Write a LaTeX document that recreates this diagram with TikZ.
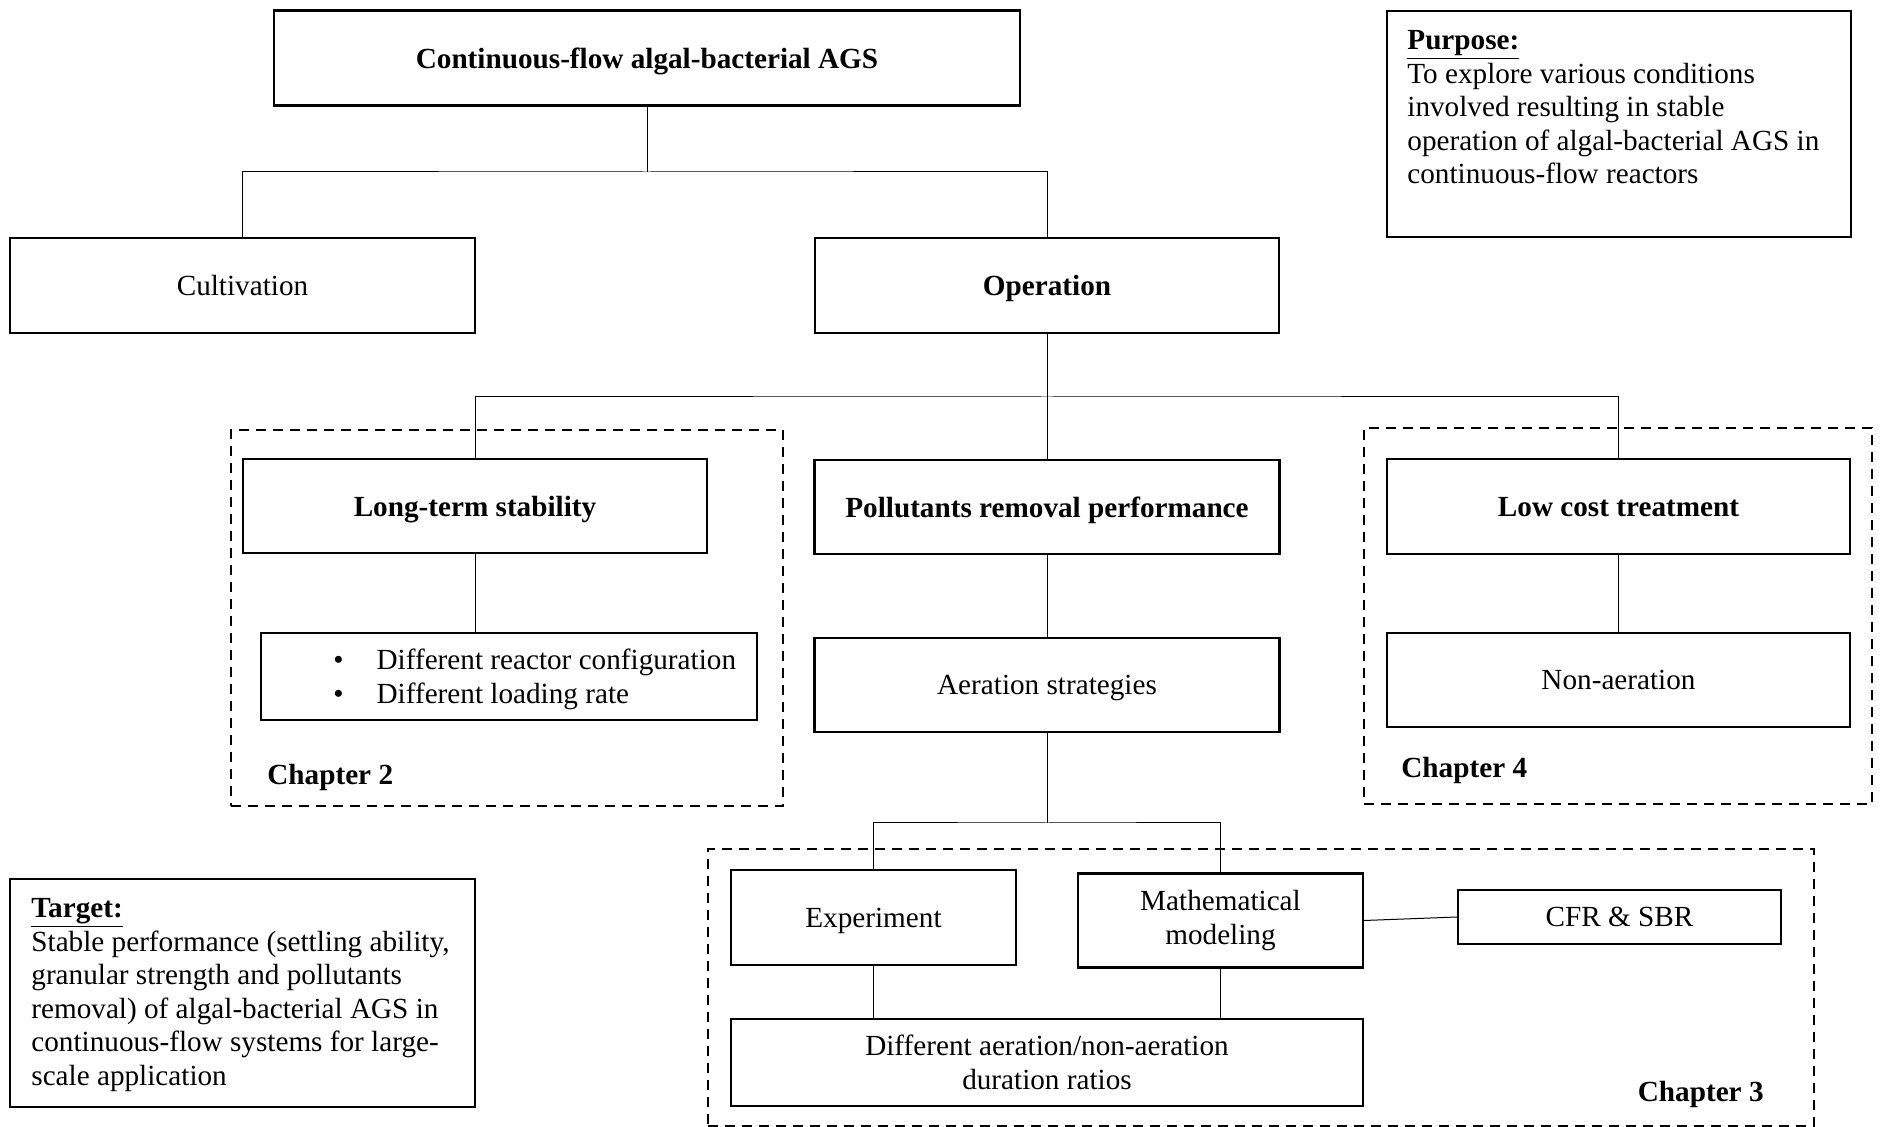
\documentclass[tikz,border=0pt]{standalone}
\usepackage{fontspec}
\setmainfont{Liberation Serif}
\begin{document}
\begin{tikzpicture}[x=0.5pt,y=-0.5pt,
  every node/.style={font=\fontsize{14.6}{16.8}\selectfont},
  box/.style={draw, line width=1.05pt, inner sep=0pt, align=center},
  one/.style={text depth=0pt},
  bbox/.style={box, one, font=\fontsize{14.6}{16.8}\selectfont\bfseries},
  conn/.style={line width=0.5pt},
  chap/.style={draw, dash pattern=on 5pt off 3.5pt, line width=1.05pt, inner sep=0pt},
  lbl/.style={font=\fontsize{14.6}{16.8}\selectfont\bfseries, inner sep=0pt},
  txt/.style={inner sep=0pt, align=left}
]
\useasboundingbox (0,0) rectangle (1885,1127);

% chapter frames
\node[chap, minimum width=276pt, minimum height=188pt] (ch2) at (507,618) {};
\node[chap, minimum width=254pt, minimum height=188pt] (ch4) at (1618,616) {};
\node[chap, minimum width=553pt, minimum height=138.5pt] (ch3) at (1261,987.5) {};

% boxes
\node[bbox, minimum width=373pt, minimum height=47.5pt] (top) at (647,58) {Continuous-flow algal-bacterial AGS};
\node[box, one, minimum width=232.5pt, minimum height=47.5pt] (cult) at (242.5,285.5) {Cultivation};
\node[bbox, minimum width=232pt, minimum height=47.5pt] (oper) at (1047,285.5) {Operation};

\node[box, minimum width=232pt, minimum height=113pt] (purposebox) at (1619,124) {};
\node[txt, anchor=north west] (purposetext) at (1407,30) {\textbf{\underline{Purpose:}}\\To explore various conditions\\involved resulting in stable\\operation of algal-bacterial AGS in\\continuous-flow reactors};

\node[bbox, minimum width=232pt, minimum height=47pt] (long) at (475,506) {Long-term stability};
\node[box, minimum width=248pt, minimum height=43.5pt] (bullets) at (509,676.5) {};
\node[inner sep=0pt, anchor=base west] (bultext) at (333,670) {\begin{tabular}[t]{@{}l@{\hspace{16.5pt}}l@{}}\textbullet & Different reactor configuration\\ \textbullet & Different loading rate\end{tabular}};

\node[bbox, minimum width=232.5pt, minimum height=47pt] (poll) at (1047,507) {Pollutants removal performance};
\node[box, one, minimum width=232.5pt, minimum height=47pt] (aer) at (1047,685) {Aeration strategies};

\node[bbox, minimum width=231.5pt, minimum height=47.5pt] (lowcost) at (1618.5,506.5) {Low cost treatment};
\node[box, one, minimum width=231.5pt, minimum height=47pt] (nonaer) at (1618.5,680) {Non-aeration};

\node[box, one, minimum width=142.5pt, minimum height=47.5pt] (exp) at (873.5,917.5) {Experiment};
\node[box, minimum width=142.5pt, minimum height=47pt] (math) at (1220.5,920.5) {Mathematical\\modeling};
\node[box, one, minimum width=161.5pt, minimum height=27pt] (cfr) at (1619.5,917) {CFR \& SBR};
\node[box, minimum width=316pt, minimum height=43.5pt] (diff) at (1047,1062.5) {Different aeration/non-aeration\\duration ratios};

\node[box, minimum width=232.5pt, minimum height=114pt] (targetbox) at (242.5,993) {};
\node[txt, anchor=north west] (targettext) at (31,898) {\textbf{\underline{Target:}}\\Stable performance (settling ability,\\granular strength and pollutants\\removal) of algal-bacterial AGS in\\continuous-flow systems for large-\\scale application};

% chapter labels
\node[lbl, anchor=base west] (l2) at (267,785) {Chapter 2};
\node[lbl, anchor=base west] (l4) at (1401,778) {Chapter 4};
\node[lbl, anchor=base east] (l3) at (1764,1101) {Chapter 3};

% connectors
\coordinate (j1) at (647,172);
\coordinate (j2) at (1047,397);
\coordinate (j3) at (1047,823);
\draw[conn] (top.south) -- (j1);
\draw[conn] (cult.north) |- (j1) -| (oper.north);
\draw[conn] (oper.south) -- (poll.north);
\draw[conn] (long.north) |- (j2) -| (lowcost.north);
\draw[conn] (long.south) -- (long.south |- bullets.north);
\draw[conn] (poll.south) -- (aer.north);
\draw[conn] (lowcost.south) -- (nonaer.north);
\draw[conn] (aer.south) -- (j3);
\draw[conn] (exp.north) |- (j3) -| (math.north);
\draw[conn] (exp.south) -- (exp.south |- diff.north);
\draw[conn] (math.south) -- (math.south |- diff.north);
\draw[conn] (math.east) -- (cfr.west);
\end{tikzpicture}
\end{document}
